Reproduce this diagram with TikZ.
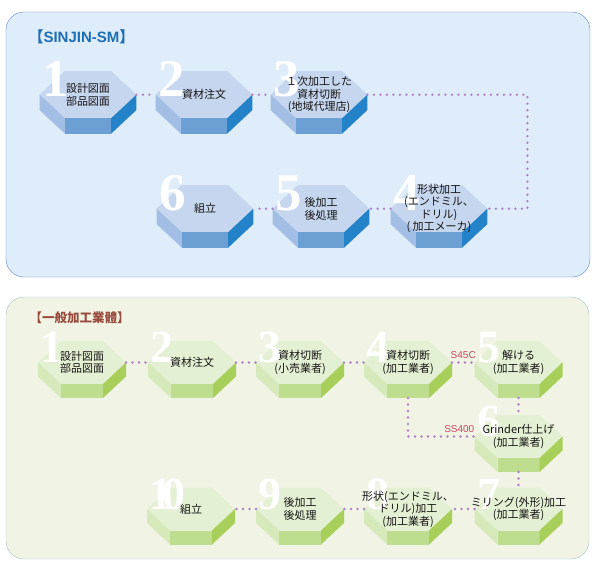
\documentclass[tikz,border=0pt]{standalone}
\usepackage{fontspec}
\setmainfont{Liberation Sans}
\newfontfamily\cjk{Noto Sans CJK JP}
\newfontfamily\numfont{Liberation Serif}
\usetikzlibrary{calc}

\definecolor{bluepanel}{RGB}{223,236,249}
\definecolor{blueedge}{RGB}{96,134,200}
\definecolor{greenpanel}{RGB}{241,244,229}
\definecolor{greenedge}{RGB}{163,192,192}
\definecolor{btop}{RGB}{198,214,238}
\definecolor{bleft}{RGB}{162,190,228}
\definecolor{bfront}{RGB}{108,160,212}
\definecolor{bright}{RGB}{36,130,200}
\definecolor{gtop}{RGB}{228,240,211}
\definecolor{gleft}{RGB}{214,233,186}
\definecolor{gfront}{RGB}{191,221,142}
\definecolor{gright}{RGB}{167,207,90}
\definecolor{dotcol}{RGB}{176,126,196}
\definecolor{gradecol}{RGB}{202,66,98}
\definecolor{titleblue}{RGB}{30,110,182}
\definecolor{titlebrown}{RGB}{152,74,60}

\tikzset{
  hexbox/.pic={
    \begin{scope}[x=#1pt, y=-#1pt]
      \fill[hex top] (-21,0) -- (21,0) -- (44,21.5) -- (21,43) -- (-21,43) -- (-44,21.5) -- cycle;
      \fill[hex left] (-44,21.5) -- (-21,43) -- (-21,57) -- (-44,35.5) -- cycle;
      \fill[hex front] (-21,43) -- (21,43) -- (21,57) -- (-21,57) -- cycle;
      \fill[hex right] (44,21.5) -- (21,43) -- (21,57) -- (44,35.5) -- cycle;
      \coordinate (-l) at (-44,21.5);
      \coordinate (-r) at (44,21.5);
      \coordinate (-c) at (0,21.5);
      \coordinate (-n) at (0,0);
      \coordinate (-s) at (0,57);
    \end{scope}
  },
  bluehex/.style={hex top/.style={fill=btop}, hex left/.style={fill=bleft},
    hex front/.style={fill=bfront}, hex right/.style={fill=bright}},
  greenhex/.style={hex top/.style={fill=gtop}, hex left/.style={fill=gleft},
    hex front/.style={fill=gfront}, hex right/.style={fill=gright}},
  dots/.style={draw=dotcol, line width=2.6pt, line cap=round, dash pattern=on 0pt off 6.5pt},
  steptext/.style={font=\cjk\fontsize{11}{12.5}\selectfont, align=center, text=black!92, inner sep=0pt},
  bignum/.style={font=\numfont\bfseries\fontsize{#1}{#1}\selectfont, text=white, anchor=base west, inner sep=0pt, xshift=2.5pt},
  grade/.style={font=\fontsize{10}{10}\selectfont, text=gradecol, inner sep=0pt}
}

\begin{document}
\begin{tikzpicture}[x=1pt, y=-1pt]
  \useasboundingbox (0,0) rectangle (598,568);
  \fill[white] (0,0) rectangle (598,568);

  \draw[draw=blueedge, fill=bluepanel, rounded corners=18pt] (6,12) rectangle (590,277);
  \draw[draw=greenedge, fill=greenpanel, rounded corners=18pt] (6,297) rectangle (589,559);

  \node[anchor=base west, text=titleblue, font=\bfseries\fontsize{15}{15}\selectfont] (bluetitle) at (25,42) {{\cjk【}SINJIN-SM{\cjk】}};
  \node[anchor=base west, text=titlebrown, font=\cjk\bfseries\fontsize{12.5}{12.5}\selectfont] (greentitle) at (26,322) {【一般加工業體】};

  \begin{scope}[bluehex]
    \pic (b1) at (88,71) {hexbox=1.1};
    \pic (b2) at (204,71) {hexbox=1.1};
    \pic (b3) at (319,71) {hexbox=1.1};
    \pic (b4) at (439,185) {hexbox=1.1};
    \pic (b5) at (321,185) {hexbox=1.1};
    \pic (b6) at (205,185) {hexbox=1.1};
  \end{scope}

  \begin{scope}[greenhex]
    \pic (g1) at (82,341) {hexbox=1};
    \pic (g2) at (192,341) {hexbox=1};
    \pic (g3) at (300,341) {hexbox=1};
    \pic (g4) at (408,341) {hexbox=1};
    \pic (g5) at (518.5,341) {hexbox=1};
    \pic (g6) at (518.5,415) {hexbox=1};
    \pic (g7) at (518.5,487.5) {hexbox=1};
    \pic (g8) at (408,487.5) {hexbox=1};
    \pic (g9) at (300,487.5) {hexbox=1};
    \pic (g10) at (191,487.5) {hexbox=1};
  \end{scope}

  \draw[dots] (b1-r) -- (b2-l);
  \draw[dots] (b2-r) -- (b3-l);
  \draw[dots] (b3-r) -- ++(160,0) |- (b4-r);
  \draw[dots] (b4-l) -- (b5-r);
  \draw[dots] (b5-l) -- (b6-r);

  \draw[dots] (g1-r) -- (g2-l);
  \draw[dots] (g2-r) -- (g3-l);
  \draw[dots] (g3-r) -- (g4-l);
  \draw[dots] (g4-r) -- (g5-l);
  \draw[dots] (g5-s) -- (g6-n);
  \draw[dots] (g4-s) |- (g6-l);
  \draw[dots] (g6-s) -- (g7-n);
  \draw[dots] (g7-l) -- (g8-r);
  \draw[dots] (g8-l) -- (g9-r);
  \draw[dots] (g9-l) -- (g10-r);

  \node[grade, anchor=base, yshift=4.5pt] (s45c) at ($(g4-r)!0.5!(g5-l)$) {S45C};
  \node[grade, anchor=base east, yshift=4.5pt] (ss400) at (g6-l) {SS400};

  \node[bignum=53, yshift=-2pt] (nb1) at (b1-l) {1};
  \node[bignum=53, yshift=-2pt] (nb2) at (b2-l) {2};
  \node[bignum=53, yshift=-2pt] (nb3) at (b3-l) {3};
  \node[bignum=53, yshift=-2pt] (nb4) at (b4-l) {4};
  \node[bignum=53, yshift=-2pt] (nb5) at (b5-l) {5};
  \node[bignum=53, yshift=-2pt] (nb6) at (b6-l) {6};

  \node[bignum=46] (ng1) at (g1-l) {1};
  \node[bignum=46] (ng2) at (g2-l) {2};
  \node[bignum=46] (ng3) at (g3-l) {3};
  \node[bignum=46] (ng4) at (g4-l) {4};
  \node[bignum=46] (ng5) at (g5-l) {5};
  \node[bignum=46] (ng6) at (g6-l) {6};
  \node[bignum=46] (ng7) at (g7-l) {7};
  \node[bignum=46] (ng8) at (g8-l) {8};
  \node[bignum=46] (ng9) at (g9-l) {9};
  \node[bignum=46] (ng10) at (g10-l) {1\kern-.22em0};

  \node[steptext] (tb1) at (b1-c) {設計図面\\部品図面};
  \node[steptext] (tb2) at (b2-c) {資材注文};
  \node[steptext] (tb3) at (b3-c) {１次加工した\\資材切断\\(地域代理店)};
  \node[steptext] (tb4) at (b4-c) {形状加工\\(エンドミル、\\ドリル)\\( 加工メーカ)};
  \node[steptext] (tb5) at (b5-c) {後加工\\後処理};
  \node[steptext] (tb6) at (b6-c) {組立};

  \node[steptext] (tg1) at (g1-c) {設計図面\\部品図面};
  \node[steptext] (tg2) at (g2-c) {資材注文};
  \node[steptext] (tg3) at (g3-c) {資材切断\\(小売業者)};
  \node[steptext] (tg4) at (g4-c) {資材切断\\(加工業者)};
  \node[steptext] (tg5) at (g5-c) {解ける\\(加工業者)};
  \node[steptext] (tg6) at (g6-c) {Grinder仕上げ\\(加工業者)};
  \node[steptext] (tg7) at (g7-c) {ミリング(外形)加工\\(加工業者)};
  \node[steptext] (tg8) at (g8-c) {形状(エンドミル、\\ドリル)加工\\(加工業者)};
  \node[steptext] (tg9) at (g9-c) {後加工\\後処理};
  \node[steptext] (tg10) at (g10-c) {組立};
\end{tikzpicture}
\end{document}
